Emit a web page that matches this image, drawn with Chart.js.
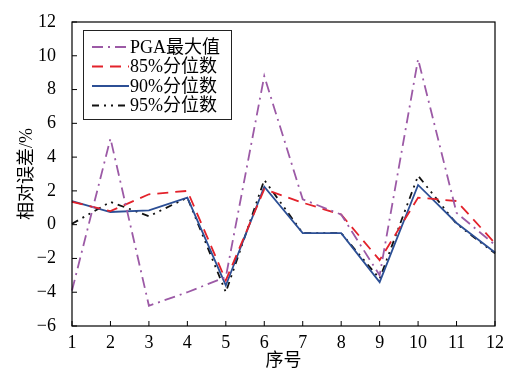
<!DOCTYPE html>
<html>
<head>
<meta charset="utf-8">
<script src="https://cdn.jsdelivr.net/npm/chart.js@4.4.0/dist/chart.umd.min.js"></script>
<style>
  html, body { margin: 0; padding: 0; background: #fff; }
  #wrap { width: 508px; height: 380px; }
</style>
</head>
<body>
<div id="wrap"><canvas id="c" width="508" height="380"></canvas></div>
<script>
// Données
const categories = ['1', '2', '3', '4', '5', '6', '7', '8', '9', '10', '11', '12'];
const pgaMax = [-3.9, 5.1, -4.8, -4.0, -3.1, 8.8, 1.5, 0.6, -3.0, 9.8, 0.7, -1.2];
const q85 = [1.35, 0.8, 1.8, 2.0, -3.3, 2.1, 1.3, 0.6, -2.1, 1.6, 1.4, -1.1];
const q90 = [1.4, 0.75, 0.85, 1.6, -3.6, 2.25, -0.5, -0.5, -3.4, 2.35, 0.1, -1.65];
const q95 = [0.05, 1.35, 0.5, 1.6, -4.0, 2.65, -0.5, -0.5, -3.2, 2.9, 0.05, -1.7];
const seriesNames = ['PGA最大值', '85%分位数', '90%分位数', '95%分位数'];
const yTicks = [-6, -4, -2, 0, 2, 4, 6, 8, 10, 12];

const FONT = "'Liberation Serif', 'Times New Roman', 'Noto Sans CJK SC', serif";

// Cadre, graduations internes et légende encadrée
const framePlugin = {
    id: 'frame',
    afterDraw(chart) {
        const { ctx, chartArea: a, scales } = chart;
        ctx.save();
        ctx.strokeStyle = '#000';
        ctx.lineWidth = 1.2;
        ctx.setLineDash([]);
        ctx.strokeRect(a.left, a.top, a.right - a.left, a.bottom - a.top);
        ctx.lineWidth = 1;
        ctx.beginPath();
        categories.forEach((c, i) => {
            const x = scales.x.getPixelForValue(i);
            ctx.moveTo(x, a.bottom);
            ctx.lineTo(x, a.bottom - 5);
        });
        yTicks.forEach(v => {
            const y = scales.y.getPixelForValue(v);
            ctx.moveTo(a.left, y);
            ctx.lineTo(a.left + 5, y);
        });
        ctx.stroke();

        // Légende
        const lx = 83, ly = 30, lw = 148, lh = 89;
        ctx.fillStyle = '#fff';
        ctx.fillRect(lx, ly, lw, lh);
        ctx.strokeStyle = '#222';
        ctx.lineWidth = 1;
        ctx.strokeRect(lx + 0.5, ly + 0.5, lw, lh);
        ctx.font = '18px ' + FONT;
        ctx.textBaseline = 'middle';
        chart.data.datasets.forEach((ds, i) => {
            const y = ly + 17 + i * 19.5;
            ctx.strokeStyle = ds.borderColor;
            ctx.lineWidth = ds.borderWidth;
            ctx.setLineDash(ds.borderDash || []);
            ctx.beginPath();
            ctx.moveTo(lx + 9, y);
            ctx.lineTo(lx + 46, y);
            ctx.stroke();
            ctx.setLineDash([]);
            ctx.fillStyle = '#000';
            ctx.fillText(ds.label, lx + 47, y + 1);
        });
        ctx.restore();
    }
};

function line(label, data, color, dash) {
    return {
        label: label,
        data: data,
        borderColor: color,
        backgroundColor: color,
        borderWidth: 1.8,
        borderDash: dash,
        pointRadius: 0,
        tension: 0,
        fill: false
    };
}

new Chart(document.getElementById('c').getContext('2d'), {
    type: 'line',
    data: {
        labels: categories,
        datasets: [
            line(seriesNames[0], pgaMax, '#9c5aa6', [11, 5, 2, 5]),
            line(seriesNames[1], q85, '#e3222b', [11, 7]),
            line(seriesNames[2], q90, '#2c4f95', []),
            line(seriesNames[3], q95, '#111', [7, 5, 2, 5, 2, 5])
        ]
    },
    options: {
        responsive: false,
        animation: false,
        layout: { padding: { left: 0, top: 22, right: 13, bottom: 0 } },
        plugins: {
            legend: { display: false },
            tooltip: { enabled: false }
        },
        scales: {
            x: {
                offset: false,
                grid: { display: false },
                border: { display: false },
                afterFit(s) { s.height = 54; },
                ticks: {
                    color: '#000',
                    padding: -2,
                    maxRotation: 0,
                    font: { family: FONT, size: 18 }
                },
                title: {
                    display: true,
                    text: '序号',
                    color: '#000',
                    padding: { top: 0, bottom: 8 },
                    font: { family: FONT, size: 18 }
                }
            },
            y: {
                min: -6,
                max: 12,
                grid: { display: false },
                border: { display: false },
                afterFit(s) { s.width = 72; },
                afterBuildTicks(s) { s.ticks = yTicks.map(v => ({ value: v })); },
                ticks: {
                    color: '#000',
                    padding: 8,
                    font: { family: FONT, size: 18 },
                    callback: v => (v < 0 ? '−' + Math.abs(v) : String(v))
                },
                title: {
                    display: true,
                    text: '相对误差/%',
                    color: '#000',
                    padding: { top: 16, bottom: 0 },
                    font: { family: FONT, size: 18 }
                }
            }
        }
    },
    plugins: [framePlugin]
});
</script>
</body>
</html>
